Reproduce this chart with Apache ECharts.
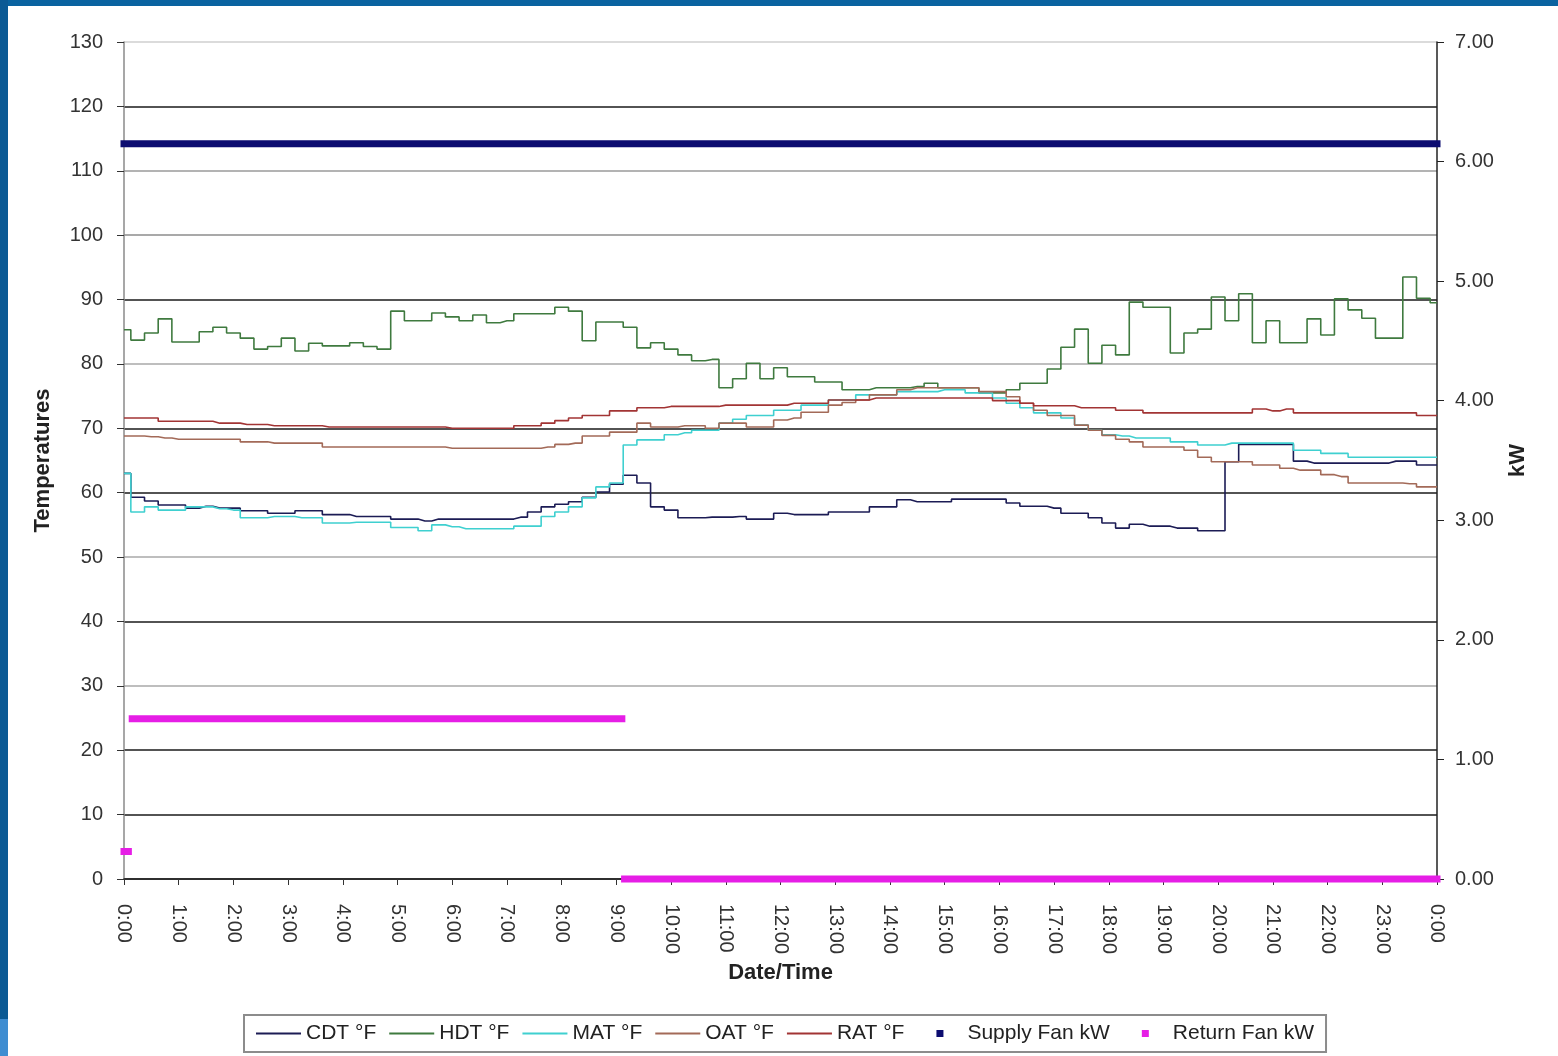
<!DOCTYPE html>
<html>
<head>
<meta charset="utf-8">
<title>Temperatures and fan kW</title>
<script src="https://cdn.jsdelivr.net/npm/echarts@6/dist/echarts.min.js"></script>
<style>
  html, body { margin: 0; padding: 0; background: #fff; }
  #wrap { position: relative; width: 1558px; height: 1056px; background: #fff; overflow: hidden; }
  #main { position: absolute; left: 0; top: 0; width: 1558px; height: 1056px; }
  .bar { position: absolute; }
</style>
</head>
<body>
<div id="wrap">
  <div id="main"></div>
  <div class="bar" style="left:0;top:0;width:1558px;height:6px;background:#0a63a0"></div>
  <div class="bar" style="left:0;top:0;width:8px;height:1019px;background:#0b5a95"></div>
  <div class="bar" style="left:0;top:1019px;width:8px;height:37px;background:#3f8dd1"></div>
</div>
<script type="text/javascript">
// time of day in hours, one reading every 15 minutes
var times = [0, 0.25, 0.5, 0.75, 1, 1.25, 1.5, 1.75, 2, 2.25,
    2.5, 2.75, 3, 3.25, 3.5, 3.75, 4, 4.25, 4.5, 4.75,
    5, 5.25, 5.5, 5.75, 6, 6.25, 6.5, 6.75, 7, 7.25,
    7.5, 7.75, 8, 8.25, 8.5, 8.75, 9, 9.25, 9.5, 9.75,
    10, 10.25, 10.5, 10.75, 11, 11.25, 11.5, 11.75, 12, 12.25,
    12.5, 12.75, 13, 13.25, 13.5, 13.75, 14, 14.25, 14.5, 14.75,
    15, 15.25, 15.5, 15.75, 16, 16.25, 16.5, 16.75, 17, 17.25,
    17.5, 17.75, 18, 18.25, 18.5, 18.75, 19, 19.25, 19.5, 19.75,
    20, 20.25, 20.5, 20.75, 21, 21.25, 21.5, 21.75, 22, 22.25,
    22.5, 22.75, 23, 23.25, 23.5, 23.75, 24];

var cdt = [63, 59.3, 58.7, 58.1, 58.1, 57.6, 57.9, 57.6, 57.6, 57.2,
    57.2, 56.8, 56.8, 57.2, 57.2, 56.6, 56.6, 56.3, 56.3, 56.3,
    55.9, 55.9, 55.6, 55.9, 55.9, 55.9, 55.9, 55.9, 55.9, 56.2,
    57, 57.8, 58.2, 58.6, 59.3, 60.1, 61.3, 62.7, 61.5, 57.8,
    57.3, 56.1, 56.1, 56.2, 56.2, 56.3, 55.9, 55.9, 56.8, 56.6,
    56.6, 56.6, 57, 57, 57, 57.8, 57.8, 58.9, 58.6, 58.6,
    58.6, 59, 59, 59, 59, 58.4, 57.9, 57.9, 57.6, 56.8,
    56.8, 56.1, 55.3, 54.5, 55.1, 54.8, 54.8, 54.5, 54.5, 54.1,
    54.1, 64.8, 67.5, 67.5, 67.5, 67.5, 64.9, 64.6, 64.6, 64.6,
    64.6, 64.6, 64.6, 64.9, 64.9, 64.3, 64.3];

var hdt = [85.3, 83.7, 84.8, 87, 83.4, 83.4, 85, 85.7, 84.8, 84,
    82.3, 82.7, 84, 82, 83.2, 82.8, 82.8, 83.3, 82.7, 82.3,
    88.2, 86.7, 86.7, 87.9, 87.3, 86.7, 87.6, 86.4, 86.7, 87.8,
    87.8, 87.8, 88.8, 88.2, 83.6, 86.5, 86.5, 85.7, 82.5, 83.3,
    82.3, 81.4, 80.5, 80.7, 76.3, 77.7, 80.1, 77.7, 79.4, 78,
    78, 77.2, 77.2, 76, 76, 76.3, 76.3, 76.3, 76.5, 77,
    76.3, 76.3, 76.3, 75.5, 75.5, 76, 77, 77, 79.2, 82.6,
    85.4, 80.1, 82.9, 81.4, 89.6, 88.8, 88.8, 81.7, 84.8, 85.4,
    90.4, 86.7, 90.9, 83.3, 86.7, 83.3, 83.3, 87, 84.5, 90.1,
    88.4, 87.1, 84, 84, 93.5, 90.2, 89.5];

var mat = [63, 57, 57.8, 57.3, 57.3, 57.8, 57.8, 57.5, 57.3, 56.1,
    56.1, 56.3, 56.3, 56.1, 56.1, 55.3, 55.3, 55.4, 55.4, 55.4,
    54.6, 54.6, 54.1, 55, 54.7, 54.4, 54.4, 54.4, 54.4, 54.8,
    54.8, 56.3, 57, 57.8, 59.2, 60.9, 61.5, 67.4, 68.2, 68.2,
    69, 69.3, 69.7, 69.7, 70.8, 71.4, 72, 72, 72.8, 72.8,
    73.6, 73.6, 74.4, 74.4, 75.2, 75.2, 75.2, 75.7, 75.7, 75.7,
    76, 76, 75.5, 75.5, 74.7, 73.9, 73.2, 72.4, 72.4, 71.6,
    70.5, 69.7, 69, 68.8, 68.5, 68.5, 68.5, 67.9, 67.9, 67.4,
    67.4, 67.7, 67.7, 67.7, 67.7, 67.7, 66.6, 66.6, 66.1, 66.1,
    65.5, 65.5, 65.5, 65.5, 65.5, 65.5, 65.5];

var oat = [68.8, 68.8, 68.7, 68.5, 68.3, 68.3, 68.3, 68.3, 68.3, 67.9,
    67.9, 67.7, 67.7, 67.7, 67.7, 67.1, 67.1, 67.1, 67.1, 67.1,
    67.1, 67.1, 67.1, 67.1, 66.9, 66.9, 66.9, 66.9, 66.9, 66.9,
    66.9, 67.1, 67.5, 67.7, 68.8, 68.8, 69.4, 69.4, 70.8, 70.2,
    70.2, 70.4, 70.4, 70, 70.8, 70.8, 70.2, 70.2, 71.3, 71.6,
    72.5, 72.5, 73.6, 74, 74.4, 75.2, 75.2, 76, 76.3, 76.3,
    76.3, 76.3, 76.3, 75.7, 75.7, 74.9, 73.9, 72.8, 72, 72,
    70.5, 69.7, 68.9, 68.3, 67.9, 67.1, 67.1, 67.1, 66.6, 65.5,
    64.8, 64.8, 64.8, 64.3, 64.3, 63.8, 63.5, 63.5, 62.8, 62.5,
    61.5, 61.5, 61.5, 61.5, 61.4, 60.9, 60.9];

var rat = [71.6, 71.6, 71.6, 71.1, 71.1, 71.1, 71.1, 70.8, 70.8, 70.6,
    70.6, 70.4, 70.4, 70.4, 70.4, 70.2, 70.2, 70.2, 70.2, 70.2,
    70.2, 70.2, 70.2, 70.2, 70, 70, 70, 70, 70, 70.4,
    70.4, 70.8, 71.2, 71.6, 72, 72, 72.7, 72.7, 73.2, 73.2,
    73.4, 73.4, 73.4, 73.4, 73.6, 73.6, 73.6, 73.6, 73.6, 73.9,
    73.9, 73.9, 74.4, 74.4, 74.4, 74.7, 74.7, 74.7, 74.7, 74.7,
    74.7, 74.7, 74.7, 74.7, 74.3, 74.3, 73.9, 73.5, 73.5, 73.5,
    73.2, 73.2, 73.2, 72.8, 72.8, 72.4, 72.4, 72.4, 72.4, 72.4,
    72.4, 72.4, 72.4, 73, 72.7, 73, 72.4, 72.4, 72.4, 72.4,
    72.4, 72.4, 72.4, 72.4, 72.4, 72, 72];

// fans: constant runs, start hour / end hour / kW
var supplyFanStart = [0];
var supplyFanEnd = [24];
var supplyFanKw = [6.15];
var returnFanStart = [0, 0.15, 9.15];
var returnFanEnd = [0.08, 9.1, 24];
var returnFanKw = [0.23, 1.34, 0];

var tempAxisTicks = [0, 130, 10];
var kwAxisTicks = [0, 7, 1];

var FONT = '"Liberation Sans", Arial, sans-serif';
// legend glyphs: thin line for temperatures, small centred square for fans
// (the zero-area slivers at both ends keep the square in the middle of the 45px slot)
var LINE_ICON = 'path://M0,0h60v2.4h-60z';
var SQUARE_ICON = 'path://M0,3.5L0.01,3.5ZM19,0h7v7h-7zM45,3.5L44.99,3.5Z';

function pairs(vals) {
    return times.map(function (t, i) { return [t, vals[i]]; });
}

function tempSeries(name, vals, color) {
    return {
        name: name,
        type: 'line',
        step: 'middle',
        symbol: 'none',
        data: pairs(vals),
        color: color,
        itemStyle: { color: color },
        lineStyle: { width: 1.6, color: color },
        emphasis: { disabled: true }
    };
}

function fanSeries(name, starts, ends, kws, color) {
    return starts.map(function (s, i) {
        return {
            name: name,
            type: 'line',
            yAxisIndex: 1,
            symbol: 'none',
            clip: false,
            z: 3,
            color: color,
            itemStyle: { color: color },
            lineStyle: { width: 7, color: color, cap: 'square' },
            data: [[s, kws[i]], [ends[i], kws[i]]],
            emphasis: { disabled: true }
        };
    });
}

var gridColors = ['#222', '#1a1a1a', '#1a1a1a', '#a8a8a8', '#1a1a1a', '#a8a8a8', '#1a1a1a',
    '#1a1a1a', '#a8a8a8', '#1a1a1a', '#8c8c8c', '#9a9a9a', '#1a1a1a', '#cfcfcf'];

var myChart = echarts.init(document.getElementById('main'));

var option = {
    animation: false,
    backgroundColor: 'transparent',
    textStyle: { fontFamily: FONT },
    grid: { left: 124, right: 121, top: 42, bottom: 177 },
    legend: {
        left: 244,
        top: 1015,
        padding: [8, 12],
        itemGap: 13,
        itemWidth: 45,
        itemHeight: 7,
        symbolKeepAspect: true,
        borderColor: '#8c8c8c',
        borderWidth: 2,
        textStyle: { fontFamily: FONT, fontSize: 21, color: '#222' },
        data: [
            { name: 'CDT °F', icon: LINE_ICON },
            { name: 'HDT °F', icon: LINE_ICON },
            { name: 'MAT °F', icon: LINE_ICON },
            { name: 'OAT °F', icon: LINE_ICON },
            { name: 'RAT °F', icon: LINE_ICON },
            { name: 'Supply Fan kW', icon: SQUARE_ICON },
            { name: 'Return Fan kW', icon: SQUARE_ICON }
        ]
    },
    xAxis: {
        type: 'value',
        min: 0,
        max: 24,
        interval: 1,
        name: 'Date/Time',
        nameLocation: 'middle',
        nameGap: 81,
        nameTextStyle: { fontFamily: FONT, fontSize: 22, fontWeight: 'bold', color: '#222' },
        axisLine: { lineStyle: { color: '#222', width: 1.5 } },
        axisTick: { show: true, length: 6, lineStyle: { color: '#333' } },
        axisLabel: {
            rotate: -90,
            margin: 25,
            fontFamily: FONT,
            fontSize: 20,
            color: '#333',
            formatter: function (v) { return (v % 24) + ':00'; }
        },
        splitLine: { show: false }
    },
    yAxis: [
        {
            type: 'value',
            min: tempAxisTicks[0],
            max: tempAxisTicks[1],
            interval: tempAxisTicks[2],
            name: 'Temperatures',
            nameLocation: 'middle',
            nameGap: 70,
            nameRotate: 90,
            nameTextStyle: { fontFamily: FONT, fontSize: 22, fontWeight: 'bold', color: '#222' },
            axisLine: { show: true, lineStyle: { color: '#8a8a8a', width: 1.5 } },
            axisTick: { show: true, length: 7, lineStyle: { color: '#333' } },
            axisLabel: { margin: 21, fontFamily: FONT, fontSize: 20, color: '#333' },
            splitLine: { show: true, lineStyle: { color: gridColors, width: 1.5 } }
        },
        {
            type: 'value',
            min: kwAxisTicks[0],
            max: kwAxisTicks[1],
            interval: kwAxisTicks[2],
            position: 'right',
            name: 'kW',
            nameLocation: 'middle',
            nameGap: 70,
            nameRotate: 90,
            nameTextStyle: { fontFamily: FONT, fontSize: 22, fontWeight: 'bold', color: '#222' },
            axisLine: { show: true, lineStyle: { color: '#222', width: 1.5 } },
            axisTick: { show: true, length: 7, lineStyle: { color: '#222' } },
            axisLabel: {
                margin: 18,
                fontFamily: FONT,
                fontSize: 20,
                color: '#333',
                formatter: function (v) { return v.toFixed(2); }
            },
            splitLine: { show: false }
        }
    ],
    series: [
        tempSeries('CDT °F', cdt, '#1c1c55'),
        tempSeries('HDT °F', hdt, '#3f7a3f'),
        tempSeries('MAT °F', mat, '#3fd0d0'),
        tempSeries('OAT °F', oat, '#a36a58'),
        tempSeries('RAT °F', rat, '#a23434')
    ]
        .concat(fanSeries('Supply Fan kW', supplyFanStart, supplyFanEnd, supplyFanKw, '#0c0c70'))
        .concat(fanSeries('Return Fan kW', returnFanStart, returnFanEnd, returnFanKw, '#e61ee6'))
};

myChart.setOption(option);
</script>
</body>
</html>
